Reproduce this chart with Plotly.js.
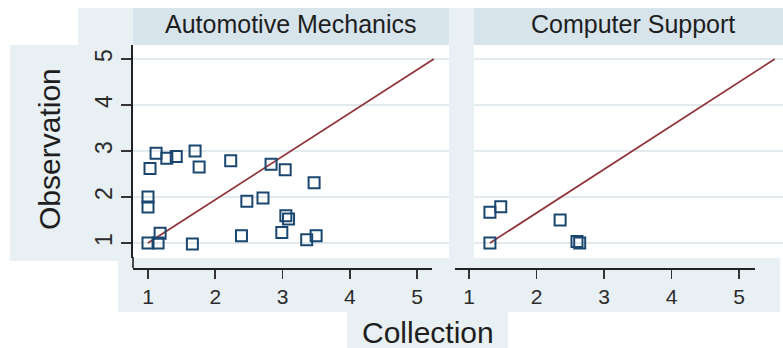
<!DOCTYPE html>
<html><head><meta charset="utf-8">
<script src="https://cdn.plot.ly/plotly-3.0.1.min.js"></script>
<style>html,body{margin:0;padding:0;background:#fff}#chart{width:783px;height:348px}</style>
</head><body><div id="chart"></div>
<script>
// ---- data ----
const panelTitles = ["Automotive Mechanics", "Computer Support"];
const xTitle = "Collection";
const yTitle = "Observation";
const tickVals = [1, 2, 3, 4, 5];
const tickText = ["1", "2", "3", "4", "5"];

const autoCollection  = [1.00, 1.15, 1.18, 1.00, 1.00, 1.03, 1.12, 1.28, 1.42, 1.70, 1.76, 1.66, 2.23, 2.47, 2.39, 2.71, 2.83, 3.04, 2.99, 3.05, 3.09, 3.47, 3.36, 3.50];
const autoObservation = [1.00, 1.00, 1.21, 2.00, 1.78, 2.62, 2.95, 2.84, 2.88, 3.00, 2.65, 0.98, 2.79, 1.91, 1.16, 1.98, 2.71, 2.59, 1.23, 1.59, 1.52, 2.31, 1.07, 1.16];
const compCollection  = [1.31, 1.31, 1.47, 2.35, 2.60, 2.64];
const compObservation = [1.00, 1.67, 1.79, 1.50, 1.03, 1.00];

const autoLineX = [1.00, 5.25];
const autoLineY = [1.00, 5.00];
const compLineX = [1.31, 5.53];
const compLineY = [1.00, 5.00];

// ---- layout helpers ----
const W = 783, H = 348;
const fx = p => p / W;
const fy = p => 1 - p / H;
const FONT = "Liberation Sans, Arial, sans-serif";
const markerColor = "#1a476f";
const lineColor = "#90353b";
const light = "#e8f0f4";
const strip = "#d8e4ec";
const gridColor = "#e3eaee";

function scatter(x, y, xa, ya) {
  return {type: "scatter", mode: "markers", x: x, y: y, xaxis: xa, yaxis: ya,
    marker: {symbol: "square-open", size: 11, color: markerColor, line: {width: 2, color: markerColor}},
    hoverinfo: "skip", showlegend: false, cliponaxis: false};
}
function fit(x, y, xa, ya) {
  return {type: "scatter", mode: "lines", x: x, y: y, xaxis: xa, yaxis: ya,
    line: {color: lineColor, width: 1.8}, hoverinfo: "skip", showlegend: false};
}
const traces = [
  fit(autoLineX, autoLineY, "x", "y"),
  scatter(autoCollection, autoObservation, "x", "y"),
  fit(compLineX, compLineY, "x2", "y2"),
  scatter(compCollection, compObservation, "x2", "y2"),
  {type: "scatter", x: [null], y: [null], xaxis: "x3", yaxis: "y3", showlegend: false, hoverinfo: "skip"},
  {type: "scatter", x: [null], y: [null], xaxis: "x4", yaxis: "y3", showlegend: false, hoverinfo: "skip"}
];

function rect(x0, y0, x1, y1, c) {
  return {type: "rect", xref: "paper", yref: "paper", x0: fx(x0), x1: fx(x1), y0: fy(y1), y1: fy(y0),
    fillcolor: c, line: {width: 0}, layer: "below"};
}
const shapes = [
  rect(10, 45, 133, 261, light),
  rect(78, 8, 133, 45, light),
  rect(133, 8, 449, 45, strip),
  rect(449, 8, 474, 260, light),
  rect(474, 8, 783, 45, strip),
  rect(118, 258, 449, 312, light),
  rect(449, 258, 780, 312, light),
  rect(347, 312, 508, 348, light),
  {type: "line", xref: "paper", yref: "paper", x0: fx(133), x1: fx(133), y0: fy(268), y1: fy(257),
    line: {color: "#222", width: 1.6}, layer: "above"}
];

const yDomain = [fy(258), fy(45)];
const yRange = [0.674, 5.304];
const hiddenX = {showline: false, showgrid: false, zeroline: false, showticklabels: false, ticks: ""};
const tickAxis = {anchor: "free", position: fy(268), showline: true, linecolor: "#222", linewidth: 1.6,
  ticks: "outside", ticklen: 9, tickwidth: 1.6, tickcolor: "#333", tickvals: tickVals, ticktext: tickText,
  tickfont: {family: FONT, size: 21, color: "#2b2b2b"}, showgrid: false, zeroline: false};

const layout = {
  width: W, height: H, margin: {l: 0, r: 0, t: 0, b: 0},
  paper_bgcolor: "#ffffff", plot_bgcolor: "rgba(0,0,0,0)", showlegend: false,
  xaxis: Object.assign({domain: [fx(133), fx(449)], range: [0.777, 5.476], anchor: "y"}, hiddenX),
  xaxis2: Object.assign({domain: [fx(474), 1], range: [1.074, 5.652], anchor: "y2"}, hiddenX),
  xaxis3: Object.assign({domain: [fx(133), fx(432)], range: [0.777, 5.223]}, tickAxis),
  xaxis4: Object.assign({domain: [fx(455), fx(755)], range: [0.793, 5.237]}, tickAxis),
  yaxis: {domain: yDomain, range: yRange, anchor: "x", showline: true, linecolor: "#222", linewidth: 1.6,
    ticks: "outside", ticklen: 10, tickwidth: 1.6, tickcolor: "#333", tickvals: tickVals, ticktext: tickText,
    tickangle: -90, tickfont: {family: FONT, size: 23, color: "#2b2b2b"},
    showgrid: true, gridcolor: gridColor, gridwidth: 2, zeroline: false},
  yaxis2: {domain: yDomain, range: yRange, anchor: "x2", showline: false, ticks: "", showticklabels: false,
    tickvals: tickVals, showgrid: true, gridcolor: gridColor, gridwidth: 2, zeroline: false},
  yaxis3: {domain: yDomain, range: [0, 1], anchor: "x3", visible: false},
  shapes: shapes,
  annotations: [
    {text: panelTitles[0], xref: "paper", yref: "paper", x: fx(291), y: fy(24), xanchor: "center", yanchor: "middle",
      showarrow: false, font: {family: FONT, size: 25, color: "#1e1e1e"}},
    {text: panelTitles[1], xref: "paper", yref: "paper", x: fx(633), y: fy(24), xanchor: "center", yanchor: "middle",
      showarrow: false, font: {family: FONT, size: 25, color: "#1e1e1e"}},
    {text: yTitle, xref: "paper", yref: "paper", x: fx(50), y: fy(149), xanchor: "center", yanchor: "middle",
      textangle: -90, showarrow: false, font: {family: FONT, size: 30, color: "#1e1e1e"}},
    {text: xTitle, xref: "paper", yref: "paper", x: fx(428), y: fy(332), xanchor: "center", yanchor: "middle",
      showarrow: false, font: {family: FONT, size: 30, color: "#1e1e1e"}}
  ]
};

Plotly.newPlot("chart", traces, layout, {displayModeBar: false, staticPlot: true});
</script>
</body></html>
